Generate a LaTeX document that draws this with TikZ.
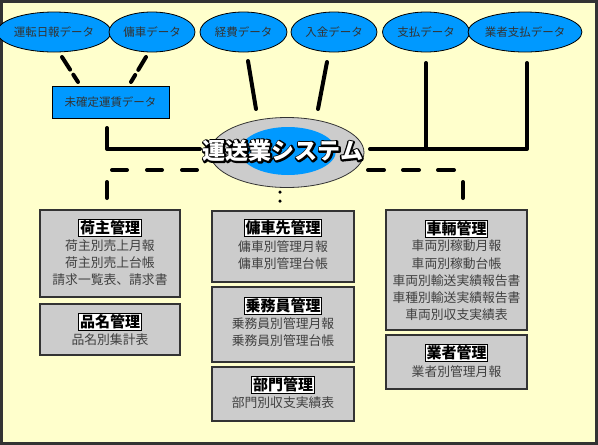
\documentclass[tikz,border=0pt]{standalone}
\usepackage{fontspec}
\newfontfamily\jp{Noto Sans CJK JP}
\usetikzlibrary{shapes.geometric}
\definecolor{bg}{HTML}{FFFFCC}
\definecolor{dblue}{HTML}{0099FF}
\definecolor{boxgray}{HTML}{CCCCCC}
\definecolor{framec}{HTML}{333333}
\definecolor{txt}{HTML}{333333}
\definecolor{itemc}{HTML}{404040}
\newcommand{\outlinetext}[1]{\rlap{\special{pdf:code q 1 Tr 3.2 w 1 j 0 0 0 RG}#1\special{pdf:code Q}}#1}
\begin{document}
\begin{tikzpicture}[x=1pt,y=-1pt,
  dataell/.style={ellipse, draw=black, line width=0.8pt, fill=dblue, minimum width=#1, minimum height=40pt, inner sep=0pt, text=txt, font=\jp\fontsize{11.5}{12}\selectfont},
  grpbox/.style={draw=framec, line width=2pt, fill=boxgray},
  ttl/.style={draw=black, line width=0.8pt, fill=white, inner sep=1.2pt, font=\jp\bfseries\fontsize{15}{15}\selectfont, text=black},
  itm/.style={align=center, inner sep=0pt, text=itemc, font=\jp\fontsize{12.8}{17.2}\selectfont},
  conn/.style={line width=4pt, black, line cap=round, line join=round},
]
\useasboundingbox (0,0) rectangle (598,445);
\fill[framec] (0,0) rectangle (598,445);
\fill[bg] (3,3) rectangle (595,442);

% data ellipses
\node[dataell=98pt] (e1) at (54,32) {運転日報データ};
\node[dataell=86pt] (e2) at (152,32) {傭車データ};
\node[dataell=87pt] (e3) at (243.5,32) {経費データ};
\node[dataell=86pt] (e4) at (334,32) {入金データ};
\node[dataell=87pt] (e5) at (426,32) {支払データ};
\node[dataell=98pt] (e6) at (525,32) {業者支払データ};

\node[draw=black, line width=0.8pt, fill=dblue, minimum width=117pt, minimum height=32pt, inner sep=0pt, text=txt, font=\jp\fontsize{11.5}{12}\selectfont] (mk) at (110.5,102) {未確定運賃データ};

% central system
\node[ellipse, draw=framec, line width=0.8pt, fill=boxgray, minimum width=154pt, minimum height=70pt, inner sep=0pt] (sys) at (287,152.5) {};
\node[ellipse, fill=dblue, minimum width=96pt, minimum height=48pt, inner sep=0pt] (sysin) at (288,151) {};
\node[font=\jp\bfseries\fontsize{23}{23}\selectfont, text=white, inner sep=0pt] (syst) at (283,151) {\outlinetext{運送業システム}};

% coordinates for connectors
\coordinate (a1) at (62,57);  \coordinate (a2) at (78,82);
\coordinate (b1) at (146,57); \coordinate (b2) at (131,82);
\coordinate (c1) at (248,61); \coordinate (c2) at (256,109);
\coordinate (d1) at (327,62); \coordinate (d2) at (318,109);
\coordinate (f1) at (426,63); \coordinate (f2) at (426,149);
\coordinate (g1) at (527,63); \coordinate (g2) at (527,149);
\coordinate (h1) at (107,128); \coordinate (h2) at (107,149); \coordinate (h3) at (200,149);
\coordinate (r1) at (370,149);
\coordinate (l1) at (112,170); \coordinate (l2) at (200,170);
\coordinate (l3) at (107,182); \coordinate (l4) at (107,198);
\coordinate (q1) at (368,170); \coordinate (q2) at (458,170);
\coordinate (q3) at (463,182); \coordinate (q4) at (463,198);
\coordinate (m1) at (280,192); \coordinate (m2) at (280,204);

\draw[conn, dash pattern=on 15pt off 6pt] (a1) -- (a2);
\draw[conn, dash pattern=on 15pt off 6pt] (b1) -- (b2);
\draw[conn] (c1) -- (c2);
\draw[conn] (d1) -- (d2);
\draw[conn] (f1) -- (f2);
\draw[conn] (g1) -- (g2) -- (r1);
\draw[conn] (h1) -- (h2) -- (h3);
\draw[line width=4pt, line cap=round, dash pattern=on 15pt off 20pt] (l1) -- (l2);
\draw[line width=4pt, line cap=round, dash pattern=on 16pt off 19pt] (q1) -- (q2);
\draw[conn] (l3) -- (l4);
\draw[conn] (q3) -- (q4);
\draw[line width=3.5pt, line cap=round, dash pattern=on 0pt off 9pt] (m1) -- (m2);

% left column
\draw[grpbox] (40,210) rectangle (180,297);
\node[ttl] (t1) at (110,228) {荷主管理};
\node[itm] (i1) at (110,262.5) {荷主別売上月報\\荷主別売上台帳\\請求一覧表、請求書};
\draw[grpbox] (40,304) rectangle (180,355);
\node[ttl] (t2) at (110,322) {品名管理};
\node[itm] (i2) at (110,340) {品名別集計表};

% middle column
\draw[grpbox] (212,211) rectangle (354,282);
\node[ttl] (t3) at (283,228) {傭車先管理};
\node[itm] (i3) at (283,255) {傭車別管理月報\\傭車別管理台帳};
\draw[grpbox] (212,287) rectangle (354,362);
\node[ttl] (t4) at (283,306) {乗務員管理};
\node[itm] (i4) at (283,332) {乗務員別管理月報\\乗務員別管理台帳};
\draw[grpbox] (212,367) rectangle (354,421);
\node[ttl] (t5) at (283,385) {部門管理};
\node[itm] (i5) at (283,403) {部門別収支実績表};

% right column
\draw[grpbox] (386,210) rectangle (527,330);
\node[ttl] (t6) at (456.5,229) {車輛管理};
\node[itm] (i6) at (456.5,280.5) {車両別稼動月報\\車両別稼動台帳\\車両別輸送実績報告書\\車種別輸送実績報告書\\車両別収支実績表};
\draw[grpbox] (386,335) rectangle (527,389);
\node[ttl] (t7) at (456.5,353) {業者管理};
\node[itm] (i7) at (456.5,372) {業者別管理月報};
\end{tikzpicture}
\end{document}
